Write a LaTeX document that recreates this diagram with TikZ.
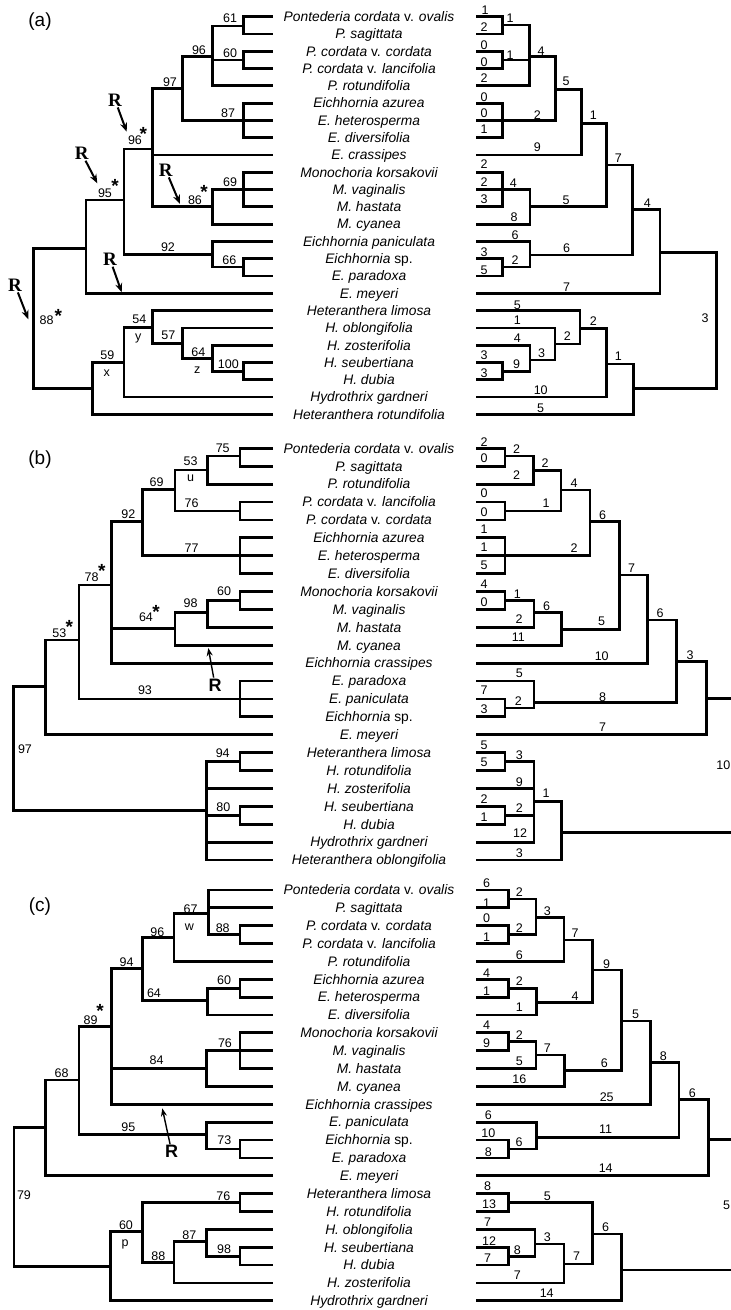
\documentclass[tikz,border=0pt]{standalone}
\usepackage{fontspec}
\setmainfont{Liberation Sans}
\newfontfamily\serifR{Liberation Serif}
\usetikzlibrary{arrows.meta}
\tikzset{
  br/.style={line width=2.8pt},
  taxon/.style={font=\fontsize{13.8}{14}\selectfont\itshape, anchor=base, inner sep=0pt, yshift=-4.8pt},
  num/.style={font=\fontsize{12.5}{13}\selectfont, inner sep=0pt},
  star/.style={font=\fontsize{19}{19}\selectfont\bfseries, inner sep=0pt, yshift=-4pt},
  panel/.style={font=\fontsize{19}{19}\selectfont, inner sep=0pt},
  rser/.style={font=\fontsize{19}{19}\selectfont\serifR\bfseries, inner sep=1pt},
  rsans/.style={font=\fontsize{18}{18}\selectfont\bfseries, inner sep=1pt},
  rarrow/.style={line width=2pt, -{Stealth[length=9pt,width=7pt]}},
  rarrowb/.style={line width=1.4pt, -{Stealth[length=8pt,width=6pt]}}
}
\begin{document}
\begin{tikzpicture}[x=1pt, y=-1pt]
\useasboundingbox (0,0) rectangle (731,1310);

\node[panel] (aP) at (40,21.7) {(a)};
\foreach \i in {1,...,24} {
  \coordinate (aL\i) at (273,{16.7+17.29*(\i-1)});
  \coordinate (aR\i) at (476,{16.7+17.29*(\i-1)});
}
\foreach \t [count=\i] in {{Pontederia cordata \textup{v.} ovalis},{P. sagittata},{P. cordata \textup{v.} cordata},{P. cordata \textup{v.} lancifolia},{P. rotundifolia},{Eichhornia azurea},{E. heterosperma},{E. diversifolia},{E. crassipes},{Monochoria korsakovii},{M. vaginalis},{M. hastata},{M. cyanea},{Eichhornia paniculata},{Eichhornia \textup{sp.}},{E. paradoxa},{E. meyeri},{Heteranthera limosa},{H. oblongifolia},{H. zosterifolia},{H. seubertiana},{H. dubia},{Hydrothrix gardneri},{Heteranthera rotundifolia}}
  \node[taxon] (aT\i) at (369,{16.7+17.29*(\i-1)}) {\t};
\coordinate (aN61) at (243.3,26);
\coordinate (aN60) at (243.3,60);
\coordinate (aN96) at (212.3,56.7);
\coordinate (aN87) at (243.3,120.4);
\coordinate (aN97) at (182.7,88.3);
\coordinate (aN96s) at (152.7,149);
\coordinate (aN69) at (243.3,189.6);
\coordinate (aN86) at (212.3,206.7);
\coordinate (aN95) at (124,200);
\coordinate (aN66) at (243.3,267);
\coordinate (aN92) at (212.3,254.3);
\coordinate (aNm) at (86,248.3);
\coordinate (aN88) at (33.3,318);
\coordinate (aNh) at (92.7,388.3);
\coordinate (aN59) at (124,362.7);
\coordinate (aN54) at (152.7,327.7);
\coordinate (aN57) at (182.7,343.3);
\coordinate (aN64) at (212.3,358.3);
\coordinate (aN100) at (243.3,371.2);
\foreach \p/\c in {aN61/aL1,aN61/aL2,aN60/aL3,aN60/aL4,aN96/aN61,aN96/aN60,aN96/aL5,
  aN87/aL6,aN87/aL7,aN87/aL8,aN97/aN96,aN97/aN87,aN96s/aN97,aN96s/aL9,aN96s/aN86,
  aN69/aL10,aN69/aL11,aN69/aL12,aN86/aN69,aN86/aL13,aN95/aN96s,aN95/aN92,
  aN66/aL15,aN66/aL16,aN92/aL14,aN92/aN66,aNm/aN95,aNm/aL17,aN88/aNm,aN88/aNh,
  aNh/aN59,aNh/aL24,aN59/aN54,aN59/aL23,aN54/aL18,aN54/aN57,aN57/aL19,aN57/aN64,
  aN64/aL20,aN64/aN100,aN100/aL21,aN100/aL22}
  \draw[br] (\p) |- (\c);
\foreach \x/\y/\t [count=\k] in {230/18/61,230/53/60,199/50/96,228/113/87,170/81.7/97,135/140/96,
  230/181.7/69,195/200/86,105/193.3/95,168/246.7/92,229.3/260/66,46.7/320/88,139.3/319.3/54,
  138.3/338.3/y,168.3/335/57,107.3/355/59,106.7/372.7/x,198.3/351.7/64,197.3/370/z,228.3/364/100}
  \node[num] (aB\k) at (\x,\y) {\t};
\foreach \x/\y [count=\k] in {143.3/130,115/181.7,58.3/311.7,204/188.3}
  \node[star] (aS\k) at (\x,\y) {*};
\foreach \x/\y/\u/\v [count=\k] in {15/285/28.3/319.3,81.7/153.3/97.3/183.3,115/100/126.7/131.7,
  165.7/170/180/204,110/259.3/121.7/292.3} {
  \node[rser] (aRr\k) at (\x,\y) {R};
  \coordinate (aRh\k) at (\u,\v);
  \draw[rarrow] (aRr\k) -- (aRh\k);
}
\coordinate (aM1) at (502.7,25);
\coordinate (aM2) at (502.7,60);
\coordinate (aM3) at (529.3,56.7);
\coordinate (aM4) at (502.7,120.4);
\coordinate (aM5) at (555.7,89.3);
\coordinate (aM6) at (581.7,123.3);
\coordinate (aM7) at (502.7,189.6);
\coordinate (aM8) at (530,206.7);
\coordinate (aM9) at (606.7,165);
\coordinate (aM10) at (632.7,209.3);
\coordinate (aM11) at (530,255);
\coordinate (aM12) at (502.7,267);
\coordinate (aM13) at (660,252.7);
\coordinate (aM14) at (716.7,320);
\coordinate (aM15) at (502.7,371.2);
\coordinate (aM16) at (530,360);
\coordinate (aM17) at (555,344);
\coordinate (aM18) at (580,328.3);
\coordinate (aM19) at (606.7,364);
\coordinate (aM20) at (633.3,388.3);
\foreach \p/\c in {aM1/aR1,aM1/aR2,aM2/aR3,aM2/aR4,aM3/aM1,aM3/aM2,aM3/aR5,aM4/aR6,aM4/aR7,aM4/aR8,
  aM5/aM3,aM5/aM4,aM6/aM5,aM6/aR9,aM7/aR10,aM7/aR11,aM7/aR12,aM8/aM7,aM8/aR13,aM9/aM6,aM9/aM8,
  aM10/aM9,aM10/aM11,aM11/aR14,aM11/aM12,aM12/aR15,aM12/aR16,aM13/aM10,aM13/aR17,aM14/aM13,
  aM14/aM20,aM15/aR21,aM15/aR22,aM16/aR20,aM16/aM15,aM17/aR19,aM17/aM16,aM18/aR18,aM18/aM17,
  aM19/aM18,aM19/aR23,aM20/aM19,aM20/aR24}
  \draw[br] (\p) |- (\c);
\foreach \x/\y/\t [count=\k] in {485/10/1,484/27.3/2,484/45/0,484/61.7/0,484/78.3/2,484/96.7/0,
  484/113.3/0,484/129/1,484/164.3/2,484/181.7/2,484/199.3/3,514/216.7/8,537.3/146.7/9,515/235/6,
  484/252.3/3,484/270/5,566.7/286.7/7,517.3/305/5,517.3/320/1,517.3/338.3/4,484/355/3,484/372.7/3,
  540.7/390/10,540.7/408.3/5,510/18.3/1,510/55/1,541/50.7/4,537.3/115/2,566/81.7/5,593.3/115/1,
  513.3/183.3/4,566/200/5,618.3/158.3/7,647.3/203.3/4,566.7/248.3/6,515/260/2,705/318.3/3,
  516.7/364/9,541.7/352.7/3,567.3/336/2,593.3/320.7/2,618.3/356/1}
  \node[num] (aC\k) at (\x,\y) {\t};

\node[panel] (bP) at (40,460) {(b)};
\foreach \i in {1,...,24} {
  \coordinate (bL\i) at (273,{448.3+17.9*(\i-1)});
  \coordinate (bR\i) at (476,{448.3+17.9*(\i-1)});
}
\foreach \t [count=\i] in {{Pontederia cordata \textup{v.} ovalis},{P. sagittata},{P. rotundifolia},{P. cordata \textup{v.} lancifolia},{P. cordata \textup{v.} cordata},{Eichhornia azurea},{E. heterosperma},{E. diversifolia},{Monochoria korsakovii},{M. vaginalis},{M. hastata},{M. cyanea},{Eichhornia crassipes},{E. paradoxa},{E. paniculata},{Eichhornia \textup{sp.}},{E. meyeri},{Heteranthera limosa},{H. rotundifolia},{H. zosterifolia},{H. seubertiana},{H. dubia},{Hydrothrix gardneri},{Heteranthera oblongifolia}}
  \node[taxon] (bT\i) at (369,{448.3+17.9*(\i-1)}) {\t};
\coordinate (bN75) at (240,456);
\coordinate (bN53) at (207.3,470);
\coordinate (bN76) at (240,510.9);
\coordinate (bN69) at (175,489.3);
\coordinate (bN77) at (240,555.7);
\coordinate (bN92) at (142.7,521.7);
\coordinate (bN60) at (240,600.5);
\coordinate (bN98) at (207.7,612.7);
\coordinate (bN64) at (175,628.3);
\coordinate (bN78) at (111.7,585);
\coordinate (bN93) at (240,698.9);
\coordinate (bN53s) at (79,640);
\coordinate (bNm) at (45.7,686.7);
\coordinate (bN97) at (13.3,750);
\coordinate (bNh) at (206.7,810.7);
\coordinate (bN94) at (240,761.5);
\coordinate (bN80) at (240,815.2);
\foreach \p/\c in {bN75/bL1,bN75/bL2,bN53/bN75,bN53/bL3,bN76/bL4,bN76/bL5,bN69/bN53,bN69/bN76,
  bN77/bL6,bN77/bL7,bN77/bL8,bN92/bN69,bN92/bN77,bN60/bL9,bN60/bL10,bN98/bN60,bN98/bL11,
  bN64/bN98,bN64/bL12,bN78/bN92,bN78/bN64,bN78/bL13,bN93/bL14,bN93/bL15,bN93/bL16,
  bN53s/bN78,bN53s/bN93,bNm/bN53s,bNm/bL17,bN97/bNm,bN97/bNh,bNh/bN94,bNh/bL20,bNh/bN80,
  bNh/bL23,bNh/bL24,bN94/bL18,bN94/bL19,bN80/bL21,bN80/bL22}
  \draw[br] (\p) |- (\c);
\foreach \x/\y/\t [count=\k] in {222.7/448.3/75,190.7/460.7/53,190.7/478.3/u,191.7/502.7/76,
  156.7/481.7/69,191.7/548.3/77,128.3/514/92,224/590.7/60,190.7/603.3/98,146/616.7/64,
  91.7/576.7/78,145/690/93,59.3/632.7/53,25/749.3/97,222.7/753.3/94,223.3/806.7/80}
  \node[num] (bB\k) at (\x,\y) {\t};
\foreach \x/\y [count=\k] in {156/608.3,101.7/566.7,69.3/623.3}
  \node[star] (bS\k) at (\x,\y) {*};
\node[rsans] (bRr) at (215,685) {R};
\coordinate (bRh) at (208.3,648);
\draw[rarrowb] (bRr) -- (bRh);
\coordinate (bM1) at (505,456);
\coordinate (bM2) at (533.3,470.7);
\coordinate (bM3) at (505,510.9);
\coordinate (bM4) at (561,490);
\coordinate (bM5) at (505,555.7);
\coordinate (bM6) at (590,521.7);
\coordinate (bM7) at (505,600.5);
\coordinate (bM8) at (534,612.7);
\coordinate (bM9) at (561.7,629.3);
\coordinate (bM10) at (619.3,575);
\coordinate (bM11) at (647.3,620);
\coordinate (bM12) at (505,707.9);
\coordinate (bM13) at (534,702.7);
\coordinate (bM14) at (676.7,661.7);
\coordinate (bM15) at (706.7,698.3);
\coordinate (bM16) at (731,698.3);
\coordinate (bM17) at (505,761.5);
\coordinate (bM18) at (505,815.2);
\coordinate (bM19) at (534,801.7);
\coordinate (bM20) at (561.7,832.3);
\coordinate (bM21) at (731,832.3);
\foreach \p/\c in {bM1/bR1,bM1/bR2,bM2/bM1,bM2/bR3,bM3/bR4,bM3/bR5,bM4/bM2,bM4/bM3,bM5/bR6,
  bM5/bR7,bM5/bR8,bM6/bM4,bM6/bM5,bM7/bR9,bM7/bR10,bM8/bM7,bM8/bR11,bM9/bM8,bM9/bR12,
  bM10/bM6,bM10/bM9,bM11/bM10,bM11/bR13,bM12/bR15,bM12/bR16,bM13/bR14,bM13/bM12,bM14/bM11,
  bM14/bM13,bM15/bM14,bM15/bR17,bM16/bM15,bM17/bR18,bM17/bR19,bM18/bR21,bM18/bR22,bM19/bM17,
  bM19/bR20,bM19/bM18,bM19/bR23,bM20/bM19,bM20/bR24,bM21/bM20}
  \draw[br] (\p) |- (\c);
\foreach \x/\y/\t [count=\k] in {484/441.7/2,484/458.3/0,516.7/449/2,516.7/475/2,545/463.3/2,
  484/493.3/0,484/511.7/0,546/502.7/1,574/483.3/4,484/529.3/1,484/546.7/1,484/565/5,574/548.3/2,
  602.7/515/6,484/584/4,484/601.7/0,517.3/594/1,519/619/2,546.7/606/6,518.3/636.7/11,
  601.7/621.7/5,631.7/568.3/7,601.7/656/10,660/612.7/6,690/655/3,519.3/673.3/5,484/690/7,
  484/709.3/3,518.3/700.7/2,602.7/696.7/8,602.7/726.7/7,723.3/765/10,484/745/5,484/762.7/5,
  519.3/755/3,519.3/781.7/9,484/799.3/2,484/816.7/1,519.3/808.3/2,520/833.3/12,546/793.3/1,
  519.3/852.7/3}
  \node[num] (bC\k) at (\x,\y) {\t};

\node[panel] (cP) at (40,906.7) {(c)};
\foreach \i in {1,...,24} {
  \coordinate (cL\i) at (273,{890+17.86*(\i-1)});
  \coordinate (cR\i) at (476,{890+17.86*(\i-1)});
}
\foreach \t [count=\i] in {{Pontederia cordata \textup{v.} ovalis},{P. sagittata},{P. cordata \textup{v.} cordata},{P. cordata \textup{v.} lancifolia},{P. rotundifolia},{Eichhornia azurea},{E. heterosperma},{E. diversifolia},{Monochoria korsakovii},{M. vaginalis},{M. hastata},{M. cyanea},{Eichhornia crassipes},{E. paniculata},{Eichhornia \textup{sp.}},{E. paradoxa},{E. meyeri},{Heteranthera limosa},{H. rotundifolia},{H. oblongifolia},{H. seubertiana},{H. dubia},{H. zosterifolia},{Hydrothrix gardneri}}
  \node[taxon] (cT\i) at (369,{890+17.86*(\i-1)}) {\t};
\coordinate (cN88) at (240,934.7);
\coordinate (cN67) at (208.3,913.3);
\coordinate (cN96) at (174,937.7);
\coordinate (cN60) at (240,988.2);
\coordinate (cN64) at (207.3,1000.7);
\coordinate (cN94) at (142.7,968.3);
\coordinate (cN76) at (240,1050.7);
\coordinate (cN84) at (206.7,1068.6);
\coordinate (cN89) at (111.7,1026.7);
\coordinate (cN73) at (240,1149);
\coordinate (cN95) at (206.7,1134.3);
\coordinate (cN68) at (79,1080);
\coordinate (cNm) at (45.7,1127.7);
\coordinate (cN79) at (14,1195);
\coordinate (cN76b) at (240,1202.5);
\coordinate (cN98) at (240,1256.1);
\coordinate (cN87) at (206.7,1241.7);
\coordinate (cN88b) at (174,1262.7);
\coordinate (cN60p) at (142.3,1231.7);
\coordinate (cNh) at (110.7,1266.7);
\foreach \p/\c in {cN88/cL3,cN88/cL4,cN67/cL1,cN67/cL2,cN67/cN88,cN96/cN67,cN96/cL5,cN60/cL6,
  cN60/cL7,cN64/cN60,cN64/cL8,cN94/cN96,cN94/cN64,cN76/cL9,cN76/cL10,cN76/cL11,cN84/cN76,
  cN84/cL12,cN89/cN94,cN89/cN84,cN89/cL13,cN73/cL15,cN73/cL16,cN95/cL14,cN95/cN73,cN68/cN89,
  cN68/cN95,cNm/cN68,cNm/cL17,cN79/cNm,cN79/cNh,cN76b/cL18,cN76b/cL19,cN98/cL21,cN98/cL22,
  cN87/cL20,cN87/cN98,cN88b/cN87,cN88b/cL23,cN60p/cN76b,cN60p/cN88b,cNh/cN60p,cNh/cL24}
  \draw[br] (\p) |- (\c);
\foreach \x/\y/\t [count=\k] in {190.7/909.3/67,189.3/926.7/w,222.7/928.3/88,157.3/931.7/96,
  224/980/60,154/993.3/64,126.7/961.7/94,225/1043.3/76,156.7/1060/84,90.7/1020/89,61.7/1072.7/68,
  128.3/1127.3/95,224.3/1140/73,24/1195/79,223.3/1196/76,126/1225/60,125/1244/p,158.3/1256/88,
  189.3/1235/87,224/1249.3/98}
  \node[num] (cB\k) at (\x,\y) {\t};
\node[star] (cS1) at (100,1006.7) {*};
\node[rsans] (cRr) at (171.7,1151.7) {R};
\coordinate (cRh) at (162.3,1108.3);
\draw[rarrowb] (cRr) -- (cRh);
\coordinate (cM1) at (508.3,899);
\coordinate (cM2) at (508.3,934.7);
\coordinate (cM3) at (536,917.3);
\coordinate (cM4) at (564,940);
\coordinate (cM5) at (508.3,988.2);
\coordinate (cM6) at (536.7,1002.7);
\coordinate (cM7) at (592.3,970);
\coordinate (cM8) at (508.3,1041.7);
\coordinate (cM9) at (536,1055);
\coordinate (cM10) at (564.3,1070.7);
\coordinate (cM11) at (621.7,1021);
\coordinate (cM12) at (650.7,1062.7);
\coordinate (cM13) at (508.3,1149);
\coordinate (cM14) at (536.7,1137.3);
\coordinate (cM15) at (679,1099.3);
\coordinate (cM16) at (708.3,1139.3);
\coordinate (cM17) at (731,1139.3);
\coordinate (cM18) at (508.3,1202.5);
\coordinate (cM19) at (508.3,1256.1);
\coordinate (cM20) at (535,1244);
\coordinate (cM21) at (564,1264);
\coordinate (cM22) at (592.3,1234);
\coordinate (cM23) at (621.7,1270);
\coordinate (cM24) at (731,1270);
\foreach \p/\c in {cM1/cR1,cM1/cR2,cM2/cR3,cM2/cR4,cM3/cM1,cM3/cM2,cM4/cM3,cM4/cR5,cM5/cR6,
  cM5/cR7,cM6/cM5,cM6/cR8,cM7/cM4,cM7/cM6,cM8/cR9,cM8/cR10,cM9/cM8,cM9/cR11,cM10/cM9,
  cM10/cR12,cM11/cM7,cM11/cM10,cM12/cM11,cM12/cR13,cM13/cR15,cM13/cR16,cM14/cR14,cM14/cM13,
  cM15/cM12,cM15/cM14,cM16/cM15,cM16/cR17,cM17/cM16,cM18/cR18,cM18/cR19,cM19/cR21,cM19/cR22,
  cM20/cR20,cM20/cM19,cM21/cM20,cM21/cR23,cM22/cM18,cM22/cM21,cM23/cM22,cM23/cR24,cM24/cM23}
  \draw[br] (\p) |- (\c);
\foreach \x/\y/\t [count=\k] in {486.7/883.3/6,486.7/902.7/1,519.3/892.3/2,486.7/918.3/0,
  486.7/936.7/1,519.3/928.3/2,547.3/911/3,519.3/955/6,575/933.3/7,486.7/972.7/4,486.7/990.7/1,
  519.3/981/2,519.3/1007.3/1,575/996/4,606.7/964/9,486.7/1025/4,486.7/1043.3/9,519.3/1035/2,
  519.3/1061.7/5,547.3/1048.3/7,519.3/1079/16,604.3/1063.3/6,635.7/1014.3/5,606.7/1096.7/25,
  663.3/1056/8,488.3/1115/6,488.3/1132.7/10,488.3/1151.7/8,519/1141.7/6,605.7/1129.3/11,
  692.3/1092.7/6,605.7/1168.3/14,726.7/1205/5,487.7/1186/8,489/1204/13,547.3/1196.7/5,
  487.7/1221.7/7,489/1240.7/12,487.7/1257.7/7,517.3/1250/8,547.3/1236.7/3,517.3/1275/7,
  576.7/1256/7,605.7/1226.7/6,546.7/1293.3/14}
  \node[num] (cC\k) at (\x,\y) {\t};
\end{tikzpicture}
\end{document}
